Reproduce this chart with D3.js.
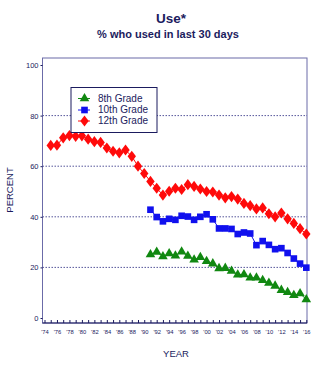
<!DOCTYPE html>
<html><head><meta charset="utf-8">
<script src="https://cdn.jsdelivr.net/npm/d3@7/dist/d3.min.js"></script>
<style>body{margin:0;background:#fff}svg{display:block}</style>
</head><body>
<script>
const years12 = d3.range(1975, 2017);
const grade12 = [68.2,68.3,71.2,72.1,71.8,72.0,70.7,69.7,69.4,67.2,65.9,65.3,66.4,63.9,60.0,57.1,54.0,51.3,48.6,50.1,51.3,50.8,52.7,52.0,51.0,50.0,49.8,48.6,47.5,48.0,47.0,45.3,44.4,43.1,43.5,41.2,40.0,41.5,39.2,37.4,35.3,33.2];
const years810 = d3.range(1991, 2017);
const grade10 = [42.8,39.9,38.2,39.2,38.8,40.4,40.1,38.8,40.0,41.0,39.0,35.4,35.4,35.2,33.2,33.8,33.4,28.8,30.4,28.9,27.2,27.6,25.7,23.5,21.5,19.9];
const grade8 = [25.1,26.1,24.3,25.5,24.6,26.2,24.5,23.0,24.0,22.4,21.5,19.6,19.7,18.6,17.1,17.2,15.9,15.9,14.9,13.8,12.7,11.0,10.2,9.0,9.7,7.3];
const yTicks = [0,20,40,60,80,100];
const gridTicks = [20,40,60,80];
const seriesNames = ["8th Grade","10th Grade","12th Grade"];

const W = 326, H = 371;
const navy = "#1b1b5e", frameC = "#6b6ba8";
const svg = d3.select("body").append("svg").attr("width", W).attr("height", H)
  .style("font-family", "'Liberation Sans', Arial, sans-serif");

const x = d3.scaleLinear().domain([1974, 2016]).range([44.5, 306.3]);
const y = d3.scaleLinear().domain([0, 100]).range([318, 65]);
const L = 42.5, R = 307, T = 58, B = 323;

// title
svg.append("text").attr("x", 171).attr("y", 23).attr("text-anchor", "middle")
  .attr("font-size", 13.5).attr("font-weight", "bold").attr("fill", navy).text("Use*");
svg.append("text").attr("x", 168).attr("y", 38).attr("text-anchor", "middle")
  .attr("font-size", 11).attr("font-weight", "bold").attr("fill", navy).text("% who used in last 30 days");

// gridlines
svg.append("g").selectAll("line").data(gridTicks).join("line")
  .attr("x1", L).attr("x2", R).attr("y1", d => y(d)).attr("y2", d => y(d))
  .attr("stroke", "#2a2a80").attr("stroke-width", 0.8).attr("stroke-dasharray", "1.5,1.5");

// frame
svg.append("rect").attr("x", L).attr("y", T).attr("width", R - L).attr("height", B - T)
  .attr("fill", "none").attr("stroke", frameC).attr("stroke-width", 1);

// y axis
const ya = svg.append("g").attr("transform", `translate(${L},0)`)
  .call(d3.axisLeft(y).tickValues(yTicks).tickSize(2).tickPadding(2));
ya.select(".domain").attr("stroke", frameC).attr("d", `M0,${T}V${B}`);
ya.selectAll(".tick line").attr("stroke", navy);
ya.selectAll("text").attr("font-size", 7.5).attr("fill", navy).attr("font-family", "'Liberation Sans', Arial, sans-serif");

// x axis
const xa = svg.append("g").attr("transform", `translate(0,${B})`)
  .call(d3.axisBottom(x).tickValues(d3.range(1974, 2017)).tickSizeInner(-3).tickSizeOuter(0).tickPadding(7)
    .tickFormat(d => d % 2 === 0 ? "'" + String(d).slice(2) : ""));
xa.select(".domain").attr("stroke", navy).attr("d", `M${L},0H${R}`);
xa.selectAll(".tick line").attr("stroke", navy);
xa.selectAll("text").attr("font-size", 5.8).attr("fill", navy).attr("font-family", "'Liberation Sans', Arial, sans-serif");

// axis labels
svg.append("text").attr("transform", "translate(13,190) rotate(-90)").attr("text-anchor", "middle")
  .attr("font-size", 9.5).attr("fill", navy).text("PERCENT");
svg.append("text").attr("x", 176).attr("y", 357).attr("text-anchor", "middle")
  .attr("font-size", 9.5).attr("fill", navy).text("YEAR");

const colors = ["#118811", "#1010ee", "#ff0a0a"];
const symbols = [d3.symbolTriangle, d3.symbolSquare, d3.symbolDiamond];
const sizes = [40, 44, 36];
const series = [
  {years: years810, vals: grade8},
  {years: years810, vals: grade10},
  {years: years12, vals: grade12}
];
const line = d3.line().x(d => x(d[0])).y(d => y(d[1]));
series.forEach((s, i) => {
  const pts = s.years.map((yr, j) => [yr, s.vals[j]]);
  svg.append("path").attr("d", line(pts)).attr("fill", "none").attr("stroke", colors[i]).attr("stroke-width", 1);
  svg.append("g").selectAll("path").data(pts).join("path")
    .attr("transform", d => `translate(${x(d[0])},${y(d[1])})` + (i === 2 ? " scale(1.3,1)" : ""))
    .attr("d", d3.symbol(symbols[i], sizes[i])).attr("fill", colors[i]);
});

// legend
svg.append("rect").attr("x", 71).attr("y", 87.5).attr("width", 86).attr("height", 45)
  .attr("fill", "#fff").attr("stroke", navy).attr("stroke-width", 1);
const ly = [98.5, 110, 121];
seriesNames.forEach((n, i) => {
  svg.append("line").attr("x1", 78).attr("x2", 90).attr("y1", ly[i]).attr("y2", ly[i])
    .attr("stroke", colors[i]).attr("stroke-width", 1);
  svg.append("path").attr("transform", `translate(84.5,${ly[i]})` + (i === 2 ? " scale(1.3,1)" : ""))
    .attr("d", d3.symbol(symbols[i], sizes[i])).attr("fill", colors[i]);
  svg.append("text").attr("x", 98).attr("y", ly[i] + 3.4).attr("font-size", 10).attr("fill", navy).text(n);
});
</script>
</body></html>
